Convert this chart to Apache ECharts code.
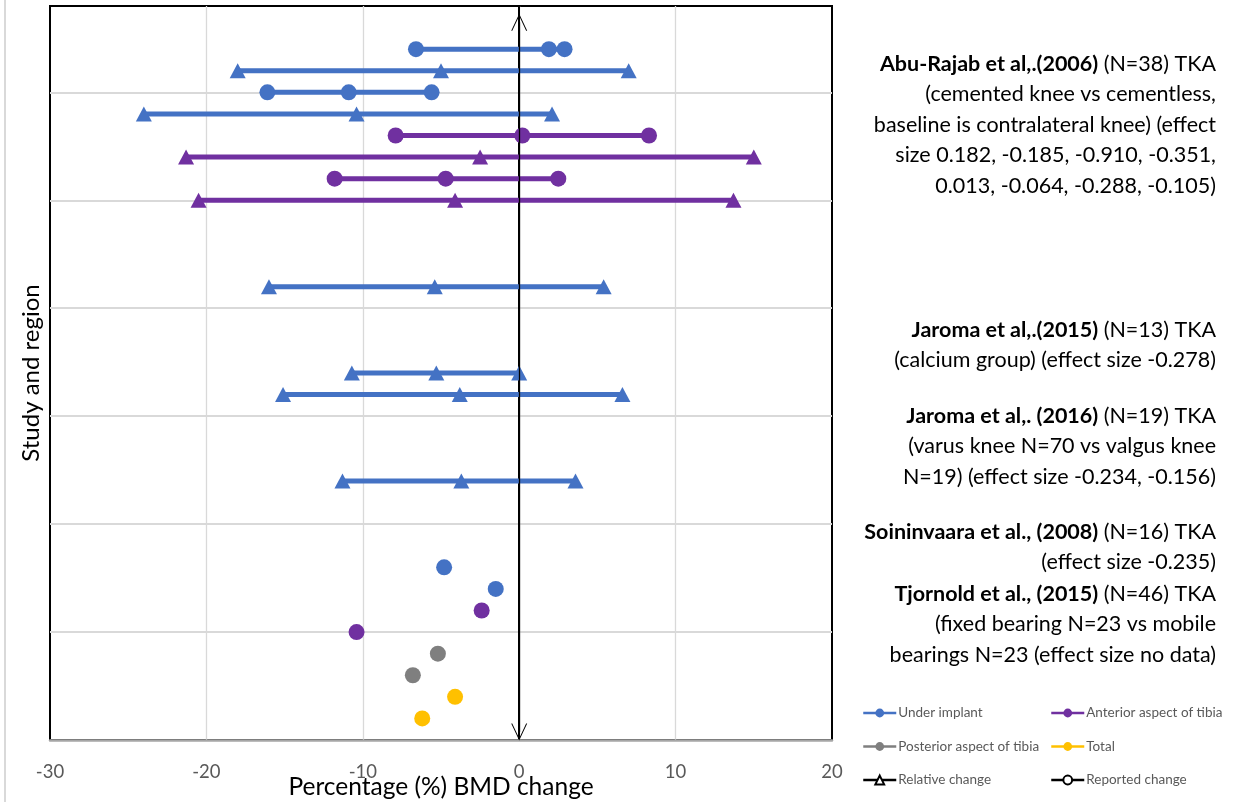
<!DOCTYPE html>
<html>
<head>
<meta charset="utf-8">
<script src="https://cdn.jsdelivr.net/npm/echarts@6/dist/echarts.min.js"></script>
<style>
html,body{margin:0;padding:0;background:#fff;}
#chart{width:1238px;height:802px;}
</style>
</head>
<body>
<div id="chart"></div>
<script>
// ---- data ----
const regions = ['Under implant', 'Anterior aspect of tibia', 'Posterior aspect of tibia', 'Total'];
const regionColors = ['#4472C4', '#7030A0', '#7F7F7F', '#FFC000'];
const changeTypes = ['Relative change', 'Reported change'];

// row position on the (hidden) study axis
const rowPos = [6.4, 6.2, 6.0, 5.8, 5.6, 5.4, 5.2, 5.0, 4.2, 3.4, 3.2, 2.4, 1.6, 1.4, 1.2, 1.0, 0.8, 0.6, 0.4, 0.2];
// region index of each row
const rowRegion = [0, 0, 0, 0, 1, 1, 1, 1, 0, 0, 0, 0, 0, 0, 1, 1, 2, 2, 3, 3];
// 0 = relative change (triangle), 1 = reported change (circle)
const rowChange = [1, 0, 1, 0, 1, 0, 1, 0, 0, 0, 0, 0, 1, 1, 1, 1, 1, 1, 1, 1];
// percentage BMD change values of each row
const rowValues = [
  [-6.6, 1.9, 2.9],
  [-18.0, -5.0, 7.0],
  [-16.1, -10.9, -5.6],
  [-24.0, -10.4, 2.1],
  [-7.9, 0.2, 8.3],
  [-21.3, -2.5, 15.0],
  [-11.8, -4.7, 2.5],
  [-20.5, -4.1, 13.7],
  [-16.0, -5.4, 5.4],
  [-10.7, -5.3, 0.0],
  [-15.1, -3.8, 6.6],
  [-11.3, -3.7, 3.6],
  [-4.8],
  [-1.5],
  [-2.4],
  [-10.4],
  [-5.2],
  [-6.8],
  [-4.1],
  [-6.2]
];

const xTicks = [-30, -20, -10, 0, 10, 20];
const xTitle = 'Percentage (%) BMD change';
const yTitle = 'Study and region';

const noteBlocks = [
  ['{b|Abu-Rajab et al,.(2006)} (N=38) TKA', '(cemented knee vs cementless,', 'baseline is contralateral knee) (effect', 'size 0.182, -0.185, -0.910, -0.351,', '0.013, -0.064, -0.288, -0.105)'],
  ['{b|Jaroma et al,.(2015)} (N=13) TKA', '(calcium group) (effect size -0.278)'],
  ['{b|Jaroma et al,. (2016)} (N=19) TKA', '(varus knee N=70 vs valgus knee', 'N=19) (effect size -0.234, -0.156)'],
  ['{b|Soininvaara et al., (2008)} (N=16) TKA', '(effect size -0.235)'],
  ['{b|Tjornold et al., (2015)} (N=46) TKA', '(fixed bearing N=23 vs mobile', 'bearings N=23 (effect size no data)']
];

// ---- layout ----
const FONT = 'Lato, "Noto Sans", sans-serif';
const noteTop = [64, 330, 416, 532, 594];
const noteLH = 30.4;
const noteSize = 21.5;

const series = [];
rowPos.forEach(function (y, i) {
  const isRel = rowChange[i] === 0;
  series.push({
    type: 'line',
    name: regions[rowRegion[i]],
    data: rowValues[i].map(function (v) { return [v, y]; }),
    color: regionColors[rowRegion[i]],
    symbol: isRel ? 'triangle' : 'circle',
    symbolSize: isRel ? [16, 15] : 16,
    lineStyle: { width: 5, color: regionColors[rowRegion[i]] },
    itemStyle: { color: regionColors[rowRegion[i]] },
    emphasis: { disabled: true },
    z: 3
  });
});
changeTypes.forEach(function (c, k) {
  series.push({
    type: 'line',
    name: c,
    data: [],
    color: '#000',
    symbol: k === 0 ? 'emptyTriangle' : 'emptyCircle',
    lineStyle: { width: 2, color: '#000' },
    itemStyle: { color: '#000', borderColor: '#000', borderWidth: 1.5 }
  });
});
// zero reference arrow
const chevron = 'path://M0,0 L-6,14 L-5.2,14 L0,1.8 L5.2,14 L6,14 Z';
series.push({
  type: 'line',
  name: 'zero',
  data: [],
  silent: true,
  markLine: {
    silent: true,
    symbol: [chevron, chevron],
    symbolSize: [16, 17],
    label: { show: false },
    lineStyle: { color: '#000', width: 1.3, type: 'solid' },
    emphasis: { disabled: true },
    data: [[{ coord: [0, 0.075] }, { coord: [0, 6.65] }]]
  },
  z: 10
});

const graphics = [];
graphics.push({
  type: 'line', shape: { x1: 5, y1: 0, x2: 5, y2: 802 },
  style: { stroke: '#D9D9D9', lineWidth: 2 }, silent: true
});
noteBlocks.forEach(function (lines, b) {
  lines.forEach(function (t, j) {
    graphics.push({
      type: 'text',
      x: 1216,
      y: noteTop[b] + j * noteLH,
      silent: true,
      style: {
        text: t,
        align: 'right',
        verticalAlign: 'middle',
        fontSize: noteSize,
        fontFamily: FONT,
        fill: '#000',
        rich: { b: { fontWeight: 'bold', fontSize: noteSize, fontFamily: FONT, fill: '#000' } }
      }
    });
  });
});

const legendCommon = {
  orient: 'vertical',
  itemWidth: 33,
  itemHeight: 11,
  itemGap: 19.5,
  selectedMode: false,
  textStyle: { color: '#595959', fontSize: 13.5, fontFamily: FONT, padding: [0, 0, 0, -3] },
  lineStyle: { width: 2.5 }
};

const option = {
  animation: false,
  backgroundColor: '#fff',
  grid: { left: 50, top: 6, right: 406, bottom: 62, outerBoundsMode: 'none', containLabel: false, show: true, borderColor: '#000', borderWidth: 2, backgroundColor: 'transparent' },
  xAxis: {
    type: 'value',
    min: xTicks[0],
    max: xTicks[xTicks.length - 1],
    interval: 10,
    axisLine: { show: true, onZero: false, lineStyle: { color: '#A6A6A6', width: 2.5 } },
    axisTick: { show: false },
    axisLabel: { color: '#595959', fontSize: 18.5, fontFamily: FONT, margin: 23 },
    splitLine: { show: true, showMinLine: false, showMaxLine: false, lineStyle: { color: '#D9D9D9', width: 1.3 } },
    name: xTitle,
    nameLocation: 'middle',
    nameGap: 35,
    nameMoveOverlap: false,
    nameTextStyle: { color: '#000', fontSize: 24.5, fontFamily: FONT }
  },
  yAxis: {
    type: 'value',
    min: 0,
    max: 6.8,
    interval: 1,
    axisLine: { show: true, lineStyle: { color: '#000', width: 2 } },
    axisTick: { show: false },
    axisLabel: { show: false },
    splitLine: { show: true, showMinLine: false, showMaxLine: false, lineStyle: { color: '#D9D9D9', width: 2 } },
    name: yTitle,
    nameLocation: 'middle',
    nameGap: 7,
    nameTextStyle: { color: '#000', fontSize: 24, fontFamily: FONT }
  },
  legend: [
    Object.assign({ left: 857, top: 701, data: ['Under implant', 'Posterior aspect of tibia', 'Relative change'] }, legendCommon),
    Object.assign({ left: 1045, top: 701, data: ['Anterior aspect of tibia', 'Total', 'Reported change'] }, legendCommon)
  ],
  graphic: graphics,
  series: series
};

const chart = echarts.init(document.getElementById('chart'), null, { renderer: 'canvas' });
chart.setOption(option);
</script>
</body>
</html>
